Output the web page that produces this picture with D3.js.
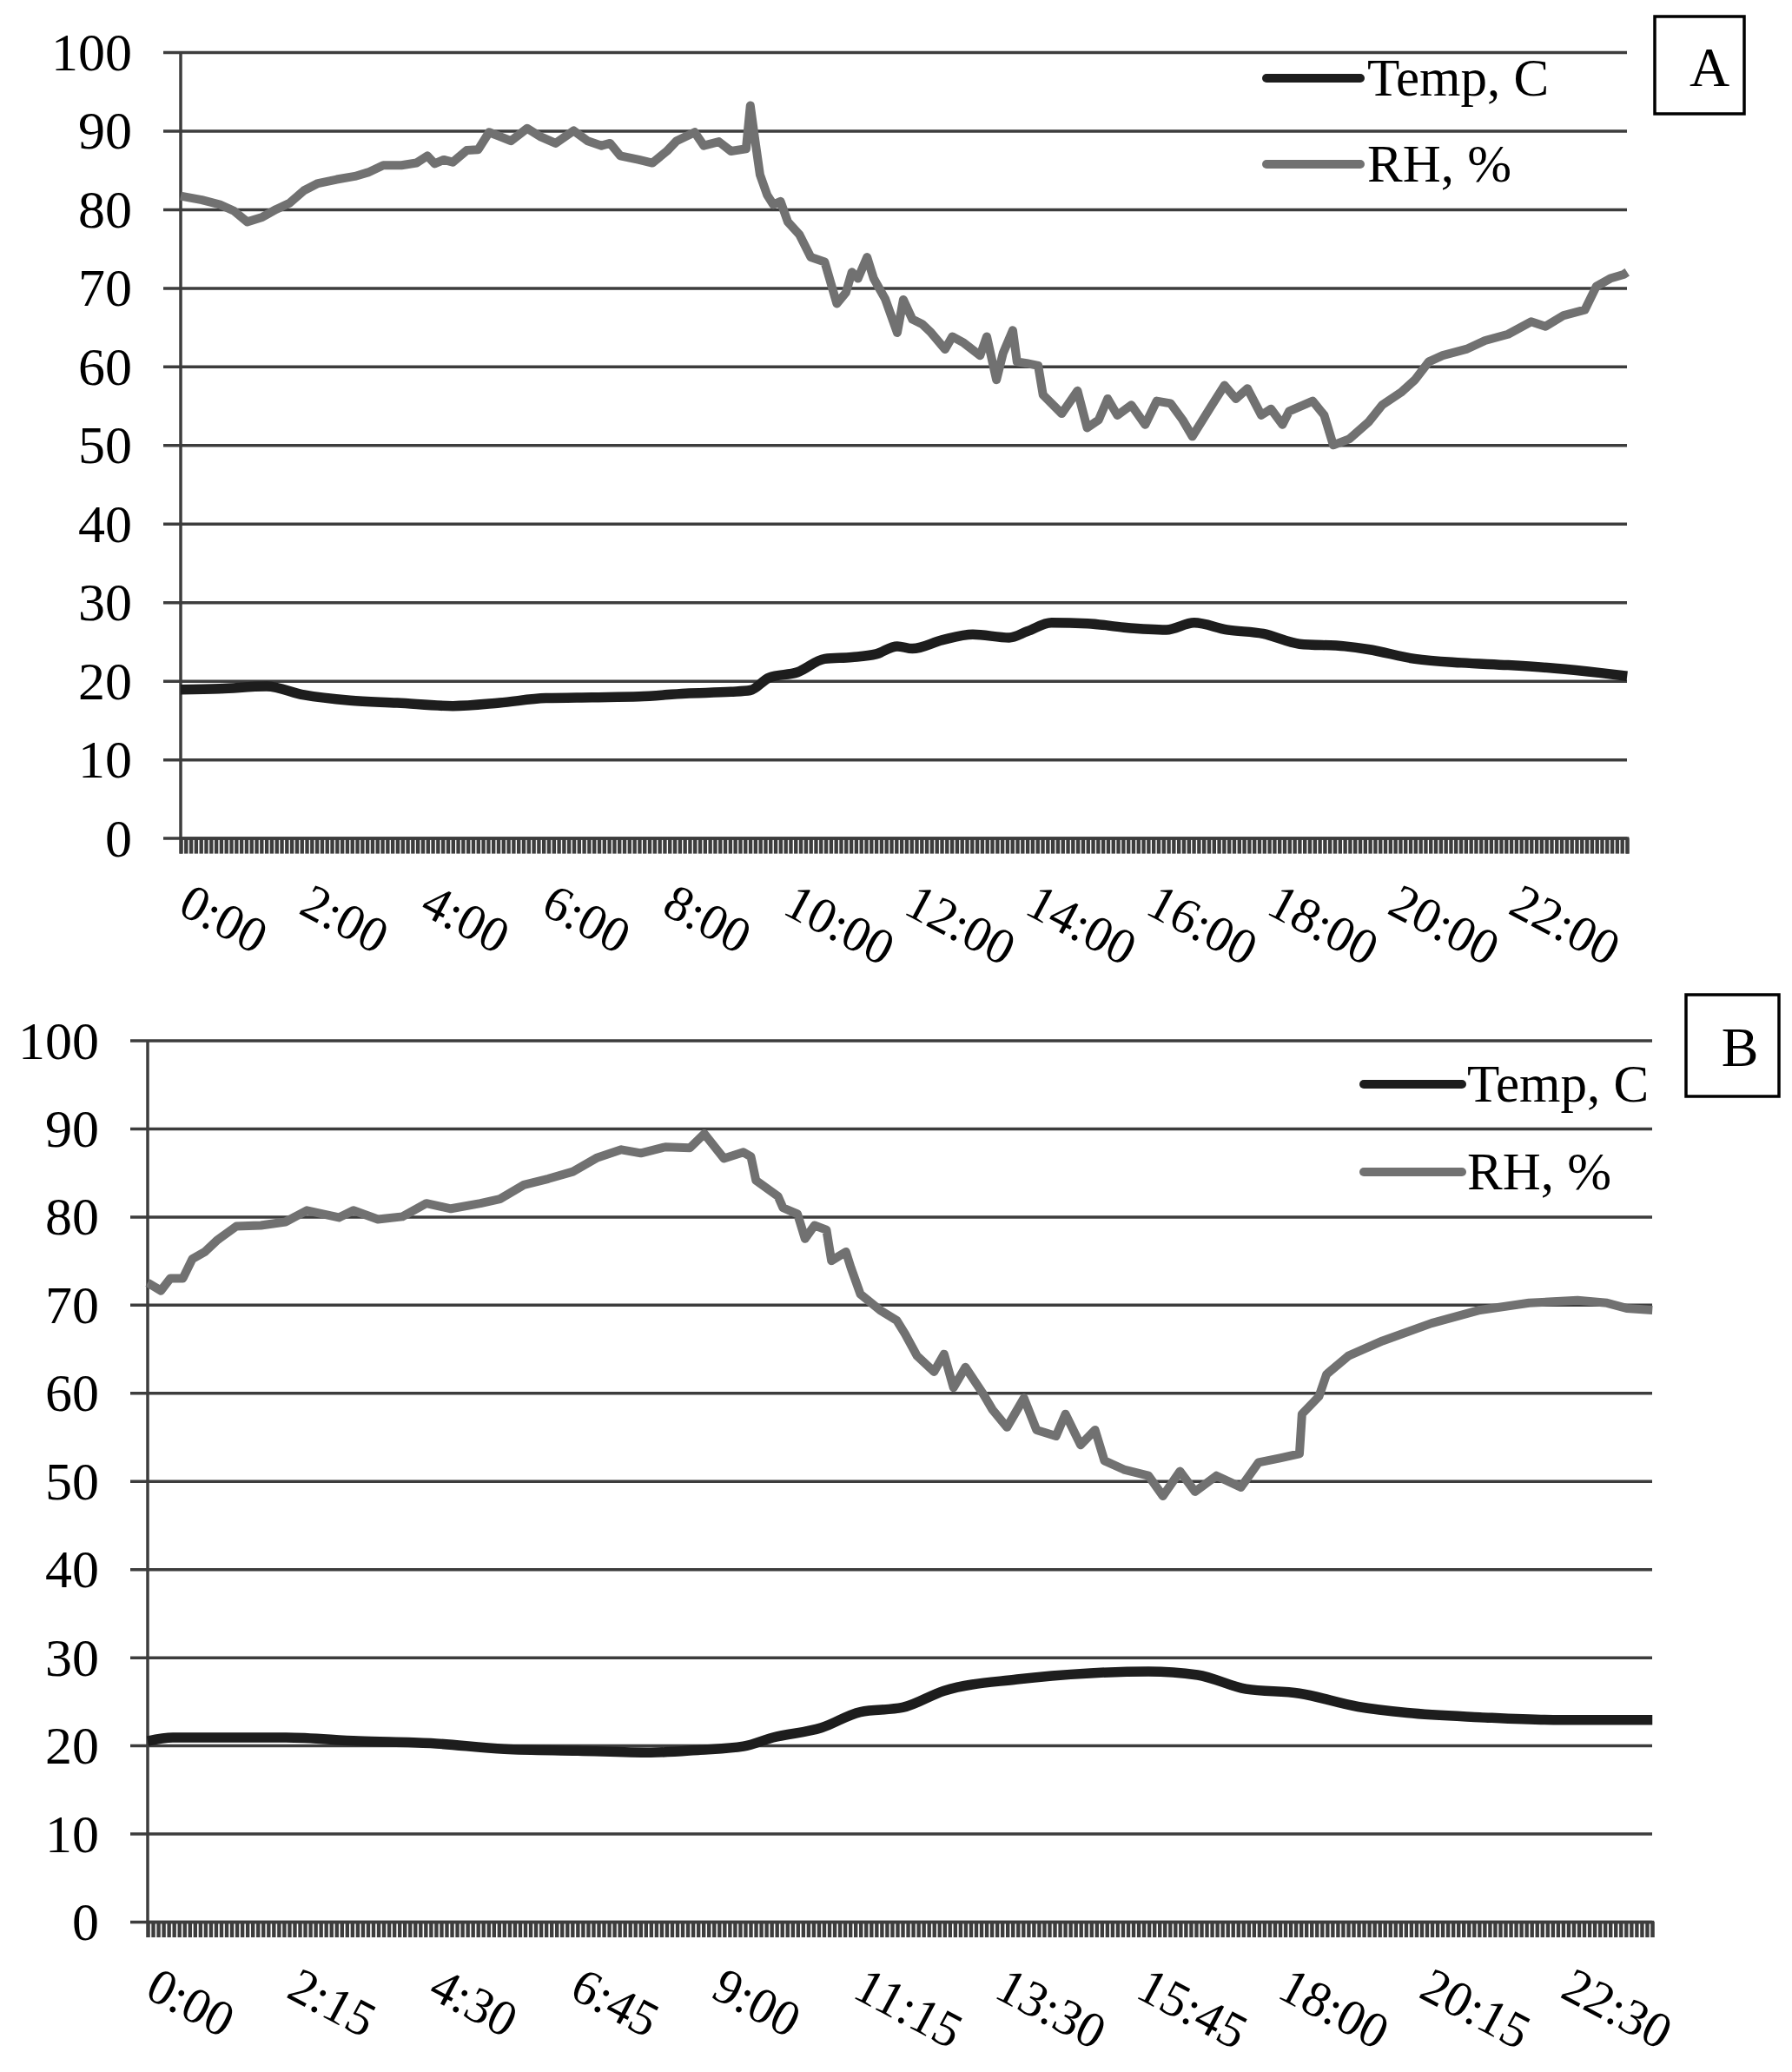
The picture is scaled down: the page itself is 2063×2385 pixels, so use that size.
<!DOCTYPE html>
<html>
<head>
<meta charset="utf-8">
<script src="https://cdn.jsdelivr.net/npm/d3@7"></script>
<style>
html,body{margin:0;padding:0;background:#fff;}
svg{display:block;}
text{font-family:"Liberation Serif","Times New Roman",serif;fill:#000;}
</style>
</head>
<body>
<script>
// ---------------- DATA ----------------
// Panel A: time in hours, values
const rhA_t = [0,0.35,0.65,0.88,1.1,1.35,1.58,1.8,2.04,2.27,2.58,2.88,3.1,3.35,3.65,3.9,4.08,4.2,4.35,4.5,4.73,4.92,5.1,5.27,5.46,5.73,5.96,6.2,6.5,6.73,6.96,7.1,7.27,7.58,7.8,8.04,8.2,8.5,8.65,8.9,9.1,9.35,9.42,9.5,9.58,9.7,9.8,9.92,10.04,10.23,10.42,10.65,10.85,11.0,11.1,11.2,11.35,11.46,11.65,11.85,11.95,12.1,12.26,12.41,12.64,12.76,12.95,13.22,13.33,13.49,13.6,13.76,13.83,13.99,14.18,14.26,14.57,14.83,14.99,15.18,15.33,15.49,15.72,15.95,16.14,16.37,16.57,16.73,17.03,17.26,17.45,17.64,17.87,18.03,18.22,18.33,18.72,18.91,19.06,19.33,19.64,19.87,20.18,20.41,20.64,20.87,21.26,21.57,21.95,22.33,22.57,22.87,23.22,23.41,23.64,23.86,23.92];
const rhA_v = [81.7,81.2,80.6,79.8,78.4,79.0,80.0,80.8,82.4,83.3,83.8,84.2,84.7,85.6,85.6,85.9,86.8,85.8,86.3,86.0,87.5,87.6,89.8,89.3,88.7,90.3,89.2,88.4,90.0,88.7,88.1,88.4,86.8,86.3,85.9,87.4,88.7,89.8,88.1,88.6,87.4,87.7,93.2,88.7,84.4,81.8,80.6,81.0,78.4,76.8,73.9,73.3,68.0,69.4,72.0,71.2,73.9,71.2,68.6,64.3,68.5,66.0,65.4,64.3,62.2,63.8,63.0,61.4,63.8,58.3,61.7,64.6,60.6,60.4,60.1,56.4,54.0,56.9,52.2,53.2,55.9,53.8,55.1,52.6,55.6,55.3,53.2,51.1,54.8,57.6,55.9,57.2,53.8,54.6,52.6,54.3,55.6,53.8,50.0,50.8,52.9,55.1,56.7,58.3,60.6,61.4,62.2,63.3,64.1,65.7,65.1,66.5,67.2,70.2,71.2,71.7,72.0];
const tempA_t = [0,0.65,1.42,2.04,2.8,3.58,4.5,5.27,6.04,6.8,7.58,8.35,9.1,9.42,9.73,10.2,10.65,11.1,11.5,11.85,12.1,12.6,13.1,13.7,14.0,14.4,15.0,15.6,16.3,16.76,17.3,17.9,18.5,19.25,19.64,20.41,21.18,21.95,22.72,23.49,23.92];
const tempA_v = [18.9,19.0,19.3,18.2,17.5,17.2,16.8,17.2,17.8,17.9,18.0,18.4,18.6,18.8,20.4,21.1,22.8,23.0,23.4,24.4,24.1,25.2,25.9,25.5,26.3,27.4,27.3,26.8,26.5,27.4,26.5,26.0,24.7,24.4,24.0,22.8,22.3,22.0,21.6,21.0,20.6];

// Panel B
const rhB_t = [0,0.21,0.36,0.56,0.71,0.91,1.1,1.41,1.8,2.19,2.53,3.04,3.27,3.66,4.05,4.43,4.82,5.29,5.6,5.98,6.37,6.76,7.15,7.53,7.84,8.23,8.62,8.85,9.16,9.47,9.59,9.67,10.02,10.1,10.33,10.45,10.6,10.79,10.87,11.1,11.18,11.33,11.64,11.91,12.04,12.23,12.5,12.66,12.81,13.0,13.28,13.43,13.66,13.93,14.13,14.44,14.59,14.83,15.06,15.21,15.52,15.91,16.14,16.41,16.65,16.99,17.38,17.66,18.0,18.31,18.35,18.62,18.74,19.09,19.63,20.41,21.18,21.96,22.73,23.2,23.51,23.92];
const rhB_v = [72.5,71.6,73.0,73.0,75.2,76.0,77.3,78.9,79.0,79.4,80.7,79.9,80.7,79.7,80.0,81.5,80.9,81.5,82.0,83.6,84.3,85.1,86.7,87.6,87.2,87.9,87.8,89.4,86.6,87.3,86.8,84.1,82.3,81.0,80.3,77.5,79.0,78.5,75.0,76.0,74.2,71.2,69.4,68.2,66.7,64.2,62.4,64.4,60.6,62.9,59.9,58.1,56.1,59.4,55.8,55.1,57.6,54.1,55.8,52.3,51.3,50.6,48.3,51.1,48.8,50.6,49.3,52.1,52.6,53.1,57.6,59.6,62.1,64.2,65.9,67.9,69.4,70.2,70.5,70.2,69.6,69.4];
const tempB_t = [0,0.4,2.2,3.35,4.5,5.67,6.84,8.0,8.78,9.47,9.94,10.71,11.33,12.0,12.66,13.82,14.98,15.91,16.69,17.46,18.31,19.24,20.02,21.18,22.35,23.92];
const tempB_v = [20.5,20.9,20.9,20.5,20.25,19.6,19.4,19.2,19.5,19.9,20.9,22.0,23.8,24.3,26.2,27.5,28.2,28.4,28.0,26.4,25.9,24.4,23.7,23.2,22.9,22.9];

const yTicks = [0,10,20,30,40,50,60,70,80,90,100];
const labelsA = ["0:00","2:00","4:00","6:00","8:00","10:00","12:00","14:00","16:00","18:00","20:00","22:00"];
const labelsB = ["0:00","2:15","4:30","6:45","9:00","11:15","13:30","15:45","18:00","20:15","22:30"];
const seriesNames = ["Temp, C","RH, %"];
const panelNames = ["A","B"];

// ---------------- DRAWING ----------------
const W = 2063, H = 2385;
const svg = d3.select("body").append("svg").attr("width", W).attr("height", H);

const GRID = "#3d3d3d", TEMP = "#1d1d1d", RH = "#717171";
const lastMin = 23*60 + 55;   // 5-min categories 0:00 … 23:55
const toMin = s => { const p = s.split(":"); return +p[0]*60 + +p[1]; };

const panels = [
  {name: panelNames[0], x0: 208, x1: 1873, yTop: 60, yBot: 964.6,
   rh: [rhA_t, rhA_v], temp: [tempA_t, tempA_v], labels: labelsA,
   legend: {lx0: 1458, lx1: 1566, tx: 1574, y1: 90, y2: 189},
   box: {x: 1905, y: 19, w: 103, h: 112, tx: 1968, ty: 99}},
  {name: panelNames[1], x0: 170, x1: 1902, yTop: 1197.5, yBot: 2212,
   rh: [rhB_t, rhB_v], temp: [tempB_t, tempB_v], labels: labelsB,
   legend: {lx0: 1570, lx1: 1683, tx: 1689, y1: 1248, y2: 1349},
   box: {x: 1941, y: 1145, w: 107, h: 117, tx: 2003, ty: 1227}}
];

panels.forEach(p => {
  const g = svg.append("g");
  const x = d3.scaleLinear().domain([0, lastMin]).range([p.x0, p.x1]);
  const y = d3.scaleLinear().domain([0, 100]).range([p.yBot, p.yTop]);

  // horizontal gridlines (extend left as tick marks)
  const yAxis = d3.axisLeft(y).tickValues(yTicks).tickSize(-(p.x1 - p.x0)).tickPadding(0).tickFormat("");
  const ga = g.append("g").attr("transform", `translate(${p.x0},0)`).call(yAxis);
  ga.select(".domain").remove();
  ga.selectAll(".tick line").attr("stroke", GRID).attr("stroke-width", 3.5)
    .attr("x1", -20).attr("x2", p.x1 - p.x0);

  // y labels
  g.selectAll(".ylab").data(yTicks).join("text")
    .attr("x", p.x0 - 56).attr("y", d => y(d) + 21)
    .attr("text-anchor", "end").attr("font-size", 62).text(d => d);

  // vertical axis line
  g.append("line").attr("x1", p.x0).attr("x2", p.x0)
    .attr("y1", y(100)).attr("y2", y(0)).attr("stroke", GRID).attr("stroke-width", 3.5);

  // x axis dense category ticks (every 5 minutes)
  const xAxis = d3.axisBottom(x).tickValues(d3.range(0, lastMin + 1, 5)).tickSize(18).tickFormat("");
  const gx = g.append("g").attr("transform", `translate(0,${p.yBot})`).call(xAxis);
  gx.select(".domain").attr("stroke", GRID).attr("stroke-width", 3.5);
  gx.selectAll(".tick line").attr("stroke", GRID).attr("stroke-width", 4.4);

  // x labels rotated
  g.selectAll(".xlab").data(p.labels).join("text")
    .attr("font-size", 58).attr("text-anchor", "start")
    .attr("transform", d => `translate(${x(toMin(d)) - 5},${p.yBot + 86}) rotate(28)`)
    .text(d => d);

  // lines
  const mk = (arr) => arr[0].map((t, i) => ({m: t*60, v: arr[1][i]}));
  const lineLin = d3.line().x(d => x(d.m)).y(d => y(d.v));
  const lineSm = d3.line().x(d => x(d.m)).y(d => y(d.v)).curve(d3.curveMonotoneX);
  g.append("path").datum(mk(p.rh)).attr("d", lineLin)
    .attr("fill", "none").attr("stroke", RH).attr("stroke-width", 10).attr("stroke-linejoin", "round");
  g.append("path").datum(mk(p.temp)).attr("d", lineSm)
    .attr("fill", "none").attr("stroke", TEMP).attr("stroke-width", 11.5).attr("stroke-linejoin", "round");

  // legend
  const L = p.legend;
  [[L.y1, TEMP, seriesNames[0]], [L.y2, RH, seriesNames[1]]].forEach(([ly, col, nm]) => {
    g.append("line").attr("x1", L.lx0).attr("x2", L.lx1).attr("y1", ly).attr("y2", ly)
      .attr("stroke", col).attr("stroke-width", 10).attr("stroke-linecap", "round");
    g.append("text").attr("x", L.tx).attr("y", ly + 20).attr("font-size", 61).text(nm);
  });

  // panel box
  const B = p.box;
  g.append("rect").attr("x", B.x).attr("y", B.y).attr("width", B.w).attr("height", B.h)
    .attr("fill", "#fff").attr("stroke", "#000").attr("stroke-width", 3.5);
  g.append("text").attr("x", B.tx).attr("y", B.ty).attr("text-anchor", "middle")
    .attr("font-size", 64).text(p.name);
});
</script>
</body>
</html>
